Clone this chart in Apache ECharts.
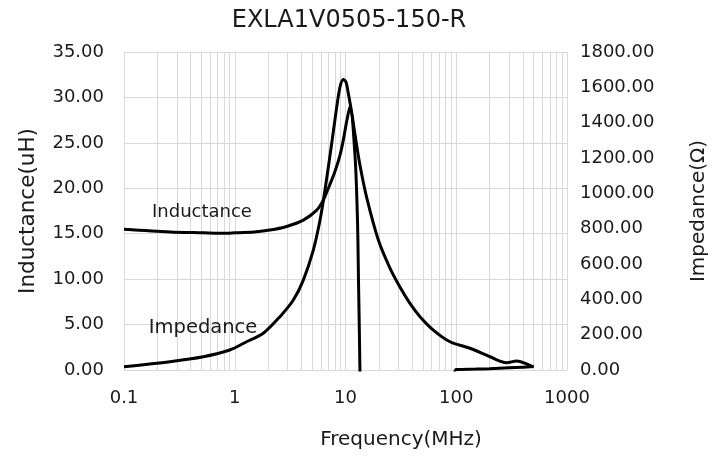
<!DOCTYPE html>
<html><head><meta charset="utf-8">
<script src="https://cdn.jsdelivr.net/npm/echarts@6/dist/echarts.min.js"></script>
<style>html,body{margin:0;padding:0;background:#fff}#c{width:724px;height:459px}</style>
</head><body><div id="c"></div><script>
const chartTitle = 'EXLA1V0505-150-R';
const xName = 'Frequency(MHz)';
const leftName = 'Inductance(uH)';
const rightName = 'Impedance(\u03A9)';
const xTickLabels = ['0.1', '1', '10', '100', '1000'];
const minorGridFreqs = [0.2,0.3,0.4,0.5,0.6,0.7,0.8,0.9, 2,3,4,5,6,7,8,9, 20,30,40,50,60,70,80,90, 200,300,400,500,600,700,800,900];

const impedanceFreq = [0.1, 0.26, 0.52, 0.9, 1.28, 1.81, 2.56, 3.38, 4.16, 5.12, 5.89, 6.53, 7.47, 8.21, 8.92, 9.55, 10.1, 10.6, 11.4, 12.2, 13.5, 15.5, 19.8, 25.2, 31.0, 38.2, 47.1, 62.1, 87.8, 133, 202, 285, 351, 433, 497];
const impedanceOhm  = [19, 47, 75, 113, 160, 208, 302, 396, 509, 679, 849, 1019, 1273, 1460, 1602, 1645, 1630, 1566, 1453, 1330, 1160, 979, 736, 577, 470, 377, 302, 226, 160, 123, 75, 41, 51, 34, 17];

const inductanceFreq = [0.1, 0.26, 0.52, 0.74, 1.0, 1.5, 2.08, 2.94, 4.16, 5.5, 6.3, 7.0, 8.0, 8.9, 9.55, 10.3, 10.98, 12.2, 12.83, 13.1, 13.5, 14, 16, 20, 30, 50, 80, 95, 100, 150, 200, 300, 400, 500];
const inductanceUH   = [15.5, 15.2, 15.1, 15.05, 15.1, 15.2, 15.4, 15.8, 16.5, 17.6, 18.7, 20.0, 21.8, 23.6, 25.3, 27.5, 29.0, 23.5, 16.5, 9.9, 0, -20, -40, -20, -8, -3, -1.5, -0.6, 0.05, 0.1, 0.15, 0.25, 0.3, 0.38];

const seriesLabels = ['Inductance', 'Impedance'];
const labelSizes = [18, 19.5];
const labelAnchors = [[0.506, 17.3], [0.517, 4.6]]; // [freq, uH] where the inline labels sit

const FONT = 'DejaVu Sans';
const TXT = '#1a1a1a';
const GRID = '#d9d9d9';

const zip = (a, b) => a.map((v, i) => [v, b[i]]);
const fmtX = v => String(+(+v).toPrecision(6));

const chart = echarts.init(document.getElementById('c'), null, {renderer: 'canvas'});
chart.setOption({
  animation: false,
  backgroundColor: '#fff',
  textStyle: {fontFamily: FONT},
  title: {text: chartTitle, left: 344, textAlign: 'center', top: 4,
    textStyle: {fontFamily: FONT, fontSize: 24, fontWeight: 'normal', color: TXT}},
  grid: {left: 124, right: 157, top: 52, bottom: 89},
  xAxis: {type: 'log', logBase: 10, min: 0.1, max: 1000,
    axisLine: {show: false}, axisTick: {show: false},
    axisLabel: {formatter: fmtX, fontSize: 18, color: TXT, margin: 19, fontFamily: FONT},
    splitLine: {show: true, lineStyle: {color: GRID, width: 1}}},
  yAxis: [
    {type: 'value', min: 0, max: 35, interval: 5, position: 'left',
      name: leftName, nameLocation: 'middle', nameGap: 85,
      nameTextStyle: {fontSize: 21.5, color: TXT, fontFamily: FONT},
      axisLine: {show: false}, axisTick: {show: false},
      axisLabel: {formatter: v => v.toFixed(2), fontSize: 18, color: TXT, margin: 20, fontFamily: FONT},
      splitLine: {show: true, lineStyle: {color: GRID, width: 1}}},
    {type: 'value', min: 0, max: 1800, interval: 200, position: 'right',
      name: rightName, nameLocation: 'middle', nameGap: 122,
      nameTextStyle: {fontSize: 20, color: TXT, fontFamily: FONT},
      axisLine: {show: false}, axisTick: {show: false},
      axisLabel: {formatter: v => v.toFixed(2), fontSize: 18, color: TXT, margin: 13, fontFamily: FONT},
      splitLine: {show: false}}
  ],
  series: [
    {type: 'line', name: 'grid', data: [], xAxisIndex: 0, yAxisIndex: 0, z: 1, silent: true,
      markLine: {silent: true, symbol: 'none', z: 1, label: {show: false},
        lineStyle: {color: GRID, width: 1, type: 'solid'},
        data: minorGridFreqs.map(f => ({xAxis: f}))}},
    {type: 'line', name: seriesLabels[0], yAxisIndex: 0, data: zip(inductanceFreq, inductanceUH),
      showSymbol: false, symbol: 'none', smooth: 0.3, clip: true, z: 3,
      lineStyle: {color: '#000', width: 3}},
    {type: 'line', name: seriesLabels[1], yAxisIndex: 1, data: zip(impedanceFreq, impedanceOhm),
      showSymbol: false, symbol: 'none', smooth: 0.3, clip: true, z: 3,
      lineStyle: {color: '#000', width: 3}}
  ]
});

const graphics = seriesLabels.map((t, i) => {
  const p = chart.convertToPixel({xAxisIndex: 0, yAxisIndex: 0}, labelAnchors[i]);
  return {type: 'text', x: p[0], y: p[1], z: 10,
    style: {text: t, fontSize: labelSizes[i], fontFamily: FONT, fill: TXT, align: 'center', verticalAlign: 'middle'}};
});
graphics.push({type: 'text', x: 401, y: 440, z: 10,
  style: {text: xName, fontSize: 20, fontFamily: FONT, fill: TXT, align: 'center', verticalAlign: 'middle'}});
chart.setOption({graphic: graphics});
</script></body></html>
